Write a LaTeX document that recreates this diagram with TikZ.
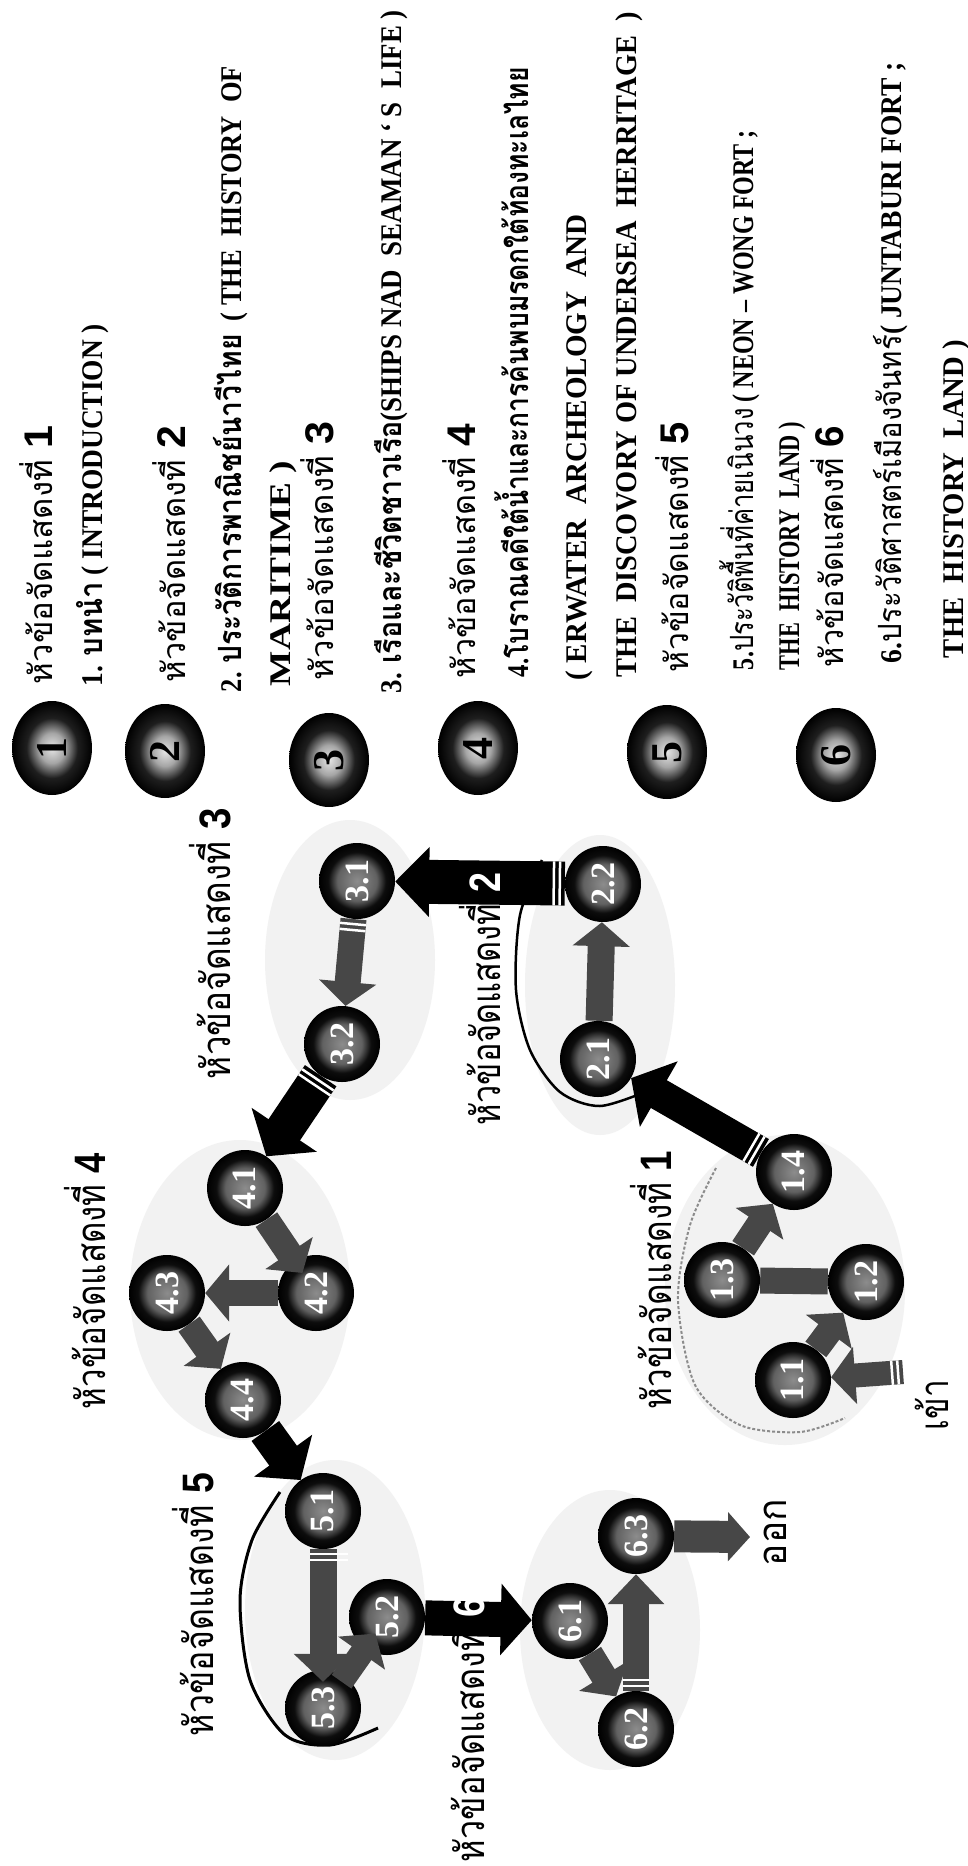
\documentclass[tikz,border=0pt]{standalone}
\usepackage{fontspec}
\usepackage{graphicx}
\setmainfont{Liberation Serif}
\newfontfamily\thaif[Script=Thai]{Loma}
\newfontfamily\digf{Liberation Sans}
\usetikzlibrary{arrows.meta,decorations.markings,shapes.geometric}
\pgfdeclarelayer{blobs}
\pgfdeclarelayer{arrs}
\pgfdeclarelayer{top}
\pgfsetlayers{blobs,arrs,main,top}
\pgfdeclareradialshading{lball}{\pgfpoint{0bp}{0bp}}{color(0bp)=(black!10); color(8bp)=(black!35); color(16bp)=(black!88); color(25bp)=(black); color(50bp)=(black)}
\pgfdeclareradialshading{dball}{\pgfpoint{0bp}{0bp}}{color(0bp)=(black!45); color(13bp)=(black!62); color(19bp)=(black!95); color(25bp)=(black); color(50bp)=(black)}
\newcommand\enx{\fontsize{30}{32}\selectfont\bfseries}
\newcommand\thx{\thaif\fontsize{32}{36}\selectfont}
\newcommand\thL{\thaif\fontsize{40}{44}\selectfont}
\newcommand\digL{\digf\bfseries\fontsize{44}{44}\selectfont}
\newcommand\digS{\digf\bfseries\fontsize{40}{40}\selectfont}
\newcommand\fitw[2]{\resizebox{#1pt}{\height}{#2}}
\tikzset{
  legtxt/.style={rotate=90, anchor=base west, inner sep=0pt, outer sep=0pt},
  lnode/.style={ellipse, minimum width=80pt, minimum height=94pt, inner sep=0pt, shade, shading=lball, font=\fontsize{44}{44}\selectfont\bfseries},
  dnode/.style={circle, minimum size=76pt, inner sep=0pt, shade, shading=dball, text=white, font=\fontsize{34}{34}\selectfont\bfseries},
  blob/.style={fill=black!5, draw=none},
  garrow/.style={draw=black!72, line width=26pt, -{Triangle[width=56pt,length=24pt]}},
  gbar/.style={draw=black!72, line width=26pt},
  barrow/.style={draw=black, line width=36pt, -{Triangle[width=74pt,length=32pt]}},
  tailmarks/.style={postaction={decorate, decoration={markings,
      mark=at position 5pt with {\draw[white, line width=2.5pt, -] (0pt,-#1) -- (0pt,#1);},
      mark=at position 11pt with {\draw[white, line width=2.5pt, -] (0pt,-#1) -- (0pt,#1);}}}},
}
\begin{document}
\begin{tikzpicture}[x=1pt,y=-1pt]
\begin{pgfonlayer}{blobs}
\fill[white] (0,0) rectangle (968,1866);
\end{pgfonlayer}
\useasboundingbox (0,0) rectangle (968,1866);

% ---------------- legend text ----------------
\node[legtxt] (lg1) at (52,684) {\fitw{258}{\thx หัวข้อจัดแสดงที่ \digS 1}};
\node[legtxt] (lg2) at (102,686) {\fitw{362}{{\enx 1. }{\thx\bfseries บทนำ}{\enx\ ( INTRODUCTION )}}};
\node[legtxt] (lg3) at (185,682) {\fitw{256}{\thx หัวข้อจัดแสดงที่ \digS 2}};
\node[legtxt] (lg4) at (241,692) {\fitw{626}{{\enx 2. }{\thx\bfseries ประวัติการพาณิชย์นาวีไทย}{\enx\ \ ( THE\ \ HISTORY\ \ OF}}};
\node[legtxt] (lg5) at (290,686) {\fitw{225}{\enx MARITIME )}};
\node[legtxt] (lg6) at (333,680) {\fitw{258}{\thx หัวข้อจัดแสดงที่ \digS 3}};
\node[legtxt] (lg7) at (401,693) {\fitw{683}{{\enx 3. }{\thx\bfseries เรือและชีวิตชาวเรือ}{\enx(SHIPS NAD\ \ SEAMAN ‘ S\ \ LIFE )}}};
\node[legtxt] (lg8) at (475,678) {\fitw{254}{\thx หัวข้อจัดแสดงที่ \digS 4}};
\node[legtxt] (lg9) at (528,677) {\fitw{610}{{\enx 4.}{\thx\bfseries โบราณคดีใต้น้ำและการค้นพบมรดกใต้ท้องทะเลไทย}}};
\node[legtxt] (lg10) at (586,680) {\fitw{466}{\enx ( ERWATER\ \ ARCHEOLOGY\ \ AND}};
\node[legtxt] (lg11) at (636,677) {\fitw{665}{\enx THE\ \ DISCOVORY OF UNDERSEA\ \ HERRITAGE\ \ )}};
\node[legtxt] (lg12) at (688,672) {\fitw{250}{\thx หัวข้อจัดแสดงที่ \digS 5}};
\node[legtxt] (lg13) at (753,670) {\fitw{540}{{\enx 5.}{\thx ประวัติพื้นที่ค่ายเนินวง}{\enx\ ( NEON – WONG FORT ;}}};
\node[legtxt] (lg14) at (799,670) {\fitw{248}{\enx THE\ \ HISTORY\ \ LAND )}};
\node[legtxt] (lg15) at (843,667) {\fitw{241}{\thx หัวข้อจัดแสดงที่ \digS 6}};
\node[legtxt] (lg16) at (901,663) {\fitw{601}{{\enx 6.}{\thx ประวัติศาสตร์เมืองจันทร์}{\enx( JUNTABURI FORT ;}}};
\node[legtxt] (lg17) at (963,658) {\fitw{318}{\enx THE\ \ HISTORY\ \ LAND )}};

% ---------------- legend balls ----------------
\node[lnode] (c1) at (52,748) {\rotatebox{90}{1}};
\node[lnode] (c2) at (165,751) {\rotatebox{90}{2}};
\node[lnode] (c3) at (329,760) {\rotatebox{90}{3}};
\node[lnode] (c4) at (478,748) {\rotatebox{90}{4}};
\node[lnode] (c5) at (667,752) {\rotatebox{90}{5}};
\node[lnode] (c6) at (836,755) {\rotatebox{90}{6}};

% ---------------- diagram nodes ----------------
\node[dnode] (n11) at (793,1380) {\rotatebox{90}{1.1}};
\node[dnode] (n12) at (866,1282) {\rotatebox{90}{1.2}};
\node[dnode] (n13) at (722,1280) {\rotatebox{90}{1.3}};
\node[dnode] (n14) at (794,1172) {\rotatebox{90}{1.4}};
\node[dnode] (n21) at (598,1059) {\rotatebox{90}{2.1}};
\node[dnode] (n22) at (603,884) {\rotatebox{90}{2.2}};
\node[dnode] (n31) at (357,881) {\rotatebox{90}{3.1}};
\node[dnode] (n32) at (342,1044) {\rotatebox{90}{3.2}};
\node[dnode] (n41) at (245,1188) {\rotatebox{90}{4.1}};
\node[dnode] (n42) at (316,1293) {\rotatebox{90}{4.2}};
\node[dnode] (n43) at (167,1293) {\rotatebox{90}{4.3}};
\node[dnode] (n44) at (243,1400) {\rotatebox{90}{4.4}};
\node[dnode] (n51) at (323,1511) {\rotatebox{90}{5.1}};
\node[dnode] (n52) at (387,1617) {\rotatebox{90}{5.2}};
\node[dnode] (n53) at (323,1708) {\rotatebox{90}{5.3}};
\node[dnode] (n61) at (570,1621) {\rotatebox{90}{6.1}};
\node[dnode] (n62) at (636,1729) {\rotatebox{90}{6.2}};
\node[dnode] (n63) at (636,1536) {\rotatebox{90}{6.3}};
\coordinate (in) at (903,1372);
\coordinate (out) at (750,1537);

% ---------------- background speckle areas and group curves ----------------
\begin{pgfonlayer}{blobs}
\fill[blob] (785,1290) ellipse [x radius=120pt, y radius=155pt];
\fill[blob] (600,985) ellipse [x radius=75pt, y radius=150pt];
\fill[blob] (350,960) ellipse [x radius=85pt, y radius=140pt];
\fill[blob] (240,1290) ellipse [x radius=110pt, y radius=150pt];
\fill[blob] (335,1610) ellipse [x radius=90pt, y radius=150pt];
\fill[blob] (610,1630) ellipse [x radius=90pt, y radius=140pt];
\draw[line width=2.5pt] plot[smooth] coordinates {(542,860) (520,915) (516,990) (530,1050) (560,1092) (600,1106) (650,1090)};
\draw[line width=3pt] plot[smooth] coordinates {(280,1492) (252,1540) (240,1600) (250,1680) (285,1735) (330,1745) (378,1728)};
\draw[black!45, line width=2pt, dash pattern=on 3pt off 2pt] plot[smooth] coordinates {(716,1168) (690,1225) (678,1300) (695,1385) (740,1425) (800,1432) (845,1418)};
\end{pgfonlayer}

% ---------------- connectors ----------------
\begin{pgfonlayer}{arrs}
\draw[garrow, line width=24pt, tailmarks=12pt] (in) -- (n11);
\draw[garrow] (n11) -- (n12);
\draw[gbar] (n12) -- (n13);
\draw[garrow] (n13) -- (n14);
\draw[barrow, line width=32pt, tailmarks=16pt] (n14) -- (n21);
\draw[garrow, line width=27pt] (n21) -- (n22);
\draw[barrow, line width=44pt, -{Triangle[width=68pt,length=34pt]}, tailmarks=22pt] (n22) -- (n31);
\draw[garrow, tailmarks=13pt] (n31) -- (n32);
\draw[barrow, line width=38pt, -{Triangle[width=77pt,length=32pt]}, tailmarks=19pt] (n32) -- (n41);
\draw[garrow] (n42) -- (n43);
\draw[garrow] (n43) -- (n44);
\draw[barrow, line width=34pt, -{Triangle[width=70pt,length=30pt]}] (n44) -- (n51);
\draw[barrow, line width=35pt, -{Triangle[width=70pt,length=31pt]}] (n52) -- (n61);
\draw[garrow] (n61) -- (n62);
\draw[garrow, -{Triangle[width=55pt,length=30pt]}, tailmarks=13pt] (n62) -- (n63);
\draw[garrow, line width=32pt, -{Triangle[width=48pt,length=22pt]}] (n63) -- (out);
\end{pgfonlayer}
\begin{pgfonlayer}{top}
\draw[garrow, shorten >=-14pt] (n41) -- (n42);
\draw[garrow, line width=27pt, -{Triangle[width=57pt,length=28pt]}, tailmarks=13pt, shorten >=-12pt] (n51) -- (n53);
\draw[garrow, line width=24pt, shorten >=-18pt, shorten <=-6pt] (n53) -- (n52);
\end{pgfonlayer}

% ---------------- diagram labels ----------------
\node[legtxt] (lab1) at (671,1409) {\fitw{258}{\thL หัวข้อจัดแสดงที่ \digL 1}};
\node[legtxt] (lab2) at (500,1125) {\fitw{252}{\thL หัวข้อจัดแสดงที่ \digL\textcolor{white}{2}}};
\node[legtxt] (lab3) at (230,1079) {\fitw{271}{\thL หัวข้อจัดแสดงที่ \digL 3}};
\node[legtxt] (lab4) at (105,1409) {\fitw{256}{\thL หัวข้อจัดแสดงที่ \digL 4}};
\node[legtxt] (lab5) at (213,1736) {\fitw{263}{\thL หัวข้อจัดแสดงที่ \digL 5}};
\node[legtxt] (lab6) at (484,1862) {\fitw{266}{\thL หัวข้อจัดแสดงที่ \digL\textcolor{white}{6}}};
\node[legtxt] (tin) at (948,1430) {\fitw{50}{\thL เข้า}};
\node[legtxt] (tout) at (786,1566) {\fitw{67}{\thL ออก}};
\end{tikzpicture}
\end{document}
